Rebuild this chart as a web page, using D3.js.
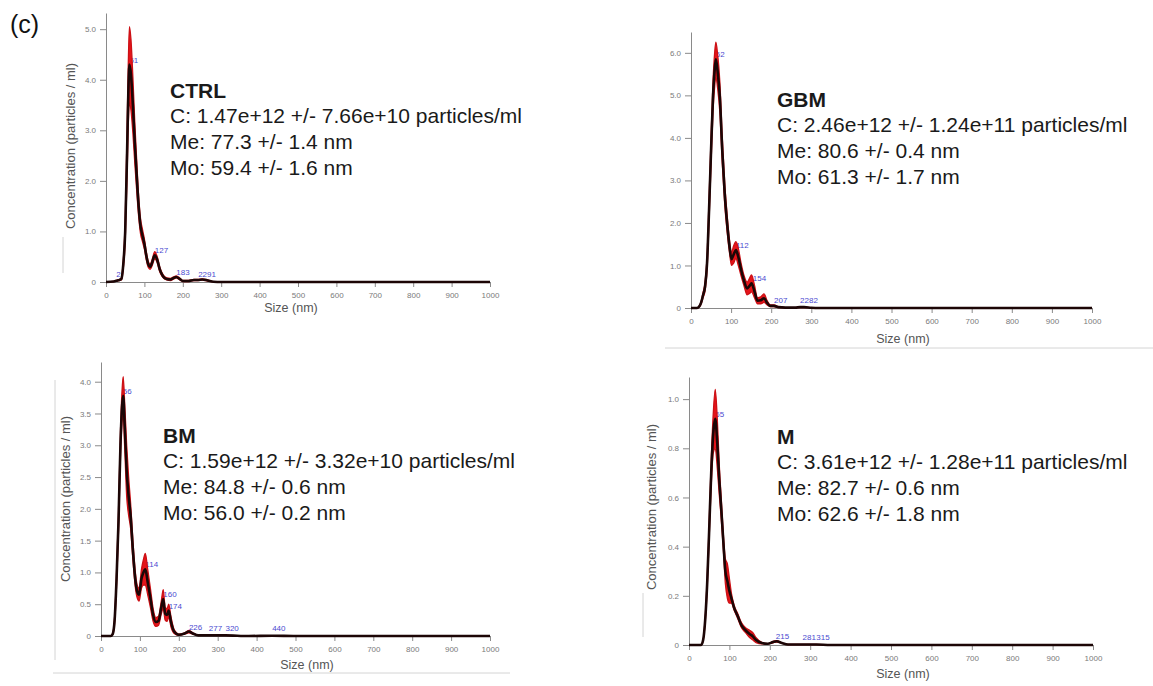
<!DOCTYPE html>
<html><head><meta charset="utf-8">
<script src="https://cdn.jsdelivr.net/npm/d3@7"></script>
<style>body{margin:0;background:#fff}svg{display:block}</style>
</head><body>
<svg id="chart" width="1153" height="686"></svg>
<script>
// ---------------- DATA ----------------
// CTRL
const ctrlSize = [0,20,30,35,40,45,50,55,58,61,65,70,75,80,85,90,95,100,105,110,115,120,127,133,140,148,158,168,176,183,192,200,215,229,240,251,265,280,300,1000];
const ctrlMean = [0,0.01,0.03,0.04,0.06,0.35,1.0,2.6,3.7,4.3,4.1,3.5,2.75,2.1,1.5,1.1,0.92,0.75,0.52,0.35,0.3,0.38,0.53,0.45,0.25,0.12,0.06,0.05,0.08,0.1,0.06,0.02,0.02,0.04,0.04,0.05,0.03,0.005,0,0];
const ctrlSd   = [0,0,0.01,0.01,0.02,0.08,0.2,0.45,0.6,0.75,0.7,0.55,0.4,0.3,0.2,0.15,0.12,0.1,0.08,0.06,0.05,0.06,0.07,0.06,0.05,0.03,0.02,0.02,0.02,0.02,0.02,0.01,0.01,0.01,0.01,0.01,0.01,0,0,0];
const ctrlYTicks = [0,1,2,3,4,5];
const ctrlPeakSize = [27,61,127,183,240];
const ctrlPeakText = ["2","61","127","183","2291"];
const ctrlStats = ["CTRL","C: 1.47e+12 +/- 7.66e+10 particles/ml","Me: 77.3 +/- 1.4 nm","Mo: 59.4 +/- 1.6 nm"];

// GBM
const gbmSize = [0,15,20,25,30,35,40,45,50,55,59,62,66,72,78,84,90,96,101,106,112,118,125,132,140,146,151,158,166,174,182,190,198,207,218,235,260,272,282,300,320,1000];
const gbmMean = [0,0,0.03,0.12,0.3,0.5,1.05,2.3,3.7,5.0,5.6,5.85,5.6,4.95,3.7,2.7,2.0,1.45,1.15,1.25,1.36,1.2,0.9,0.65,0.46,0.52,0.58,0.4,0.17,0.18,0.23,0.12,0.05,0.05,0.02,0.01,0.01,0.02,0.02,0.005,0,0];
const gbmSd   = [0,0,0.01,0.03,0.06,0.1,0.15,0.25,0.3,0.35,0.4,0.4,0.4,0.35,0.3,0.25,0.2,0.15,0.15,0.2,0.2,0.2,0.15,0.12,0.15,0.18,0.2,0.15,0.07,0.08,0.1,0.05,0.02,0.02,0.01,0,0,0.01,0.01,0,0,0];
const gbmYTicks = [0,1,2,3,4,5,6];
const gbmPeakSize = [62,112,154,207,272];
const gbmPeakText = ["62","112","154","207","2282"];
const gbmStats = ["GBM","C: 2.46e+12 +/- 1.24e+11 particles/ml","Me: 80.6 +/- 0.4 nm","Mo: 61.3 +/- 1.7 nm"];

// BM
const bmSize = [0,25,30,35,40,45,50,54,57,61,66,71,76,82,88,93,98,104,109,114,120,127,134,141,148,155,160,165,170,174,180,188,200,215,226,236,250,277,320,380,440,500,1000];
const bmMean = [0,0,0.03,0.25,0.9,1.8,3.0,3.6,3.78,3.3,2.6,2.2,1.9,1.35,0.9,0.7,0.65,0.9,1.0,1.05,0.85,0.6,0.33,0.22,0.24,0.45,0.58,0.35,0.33,0.4,0.22,0.07,0.02,0.04,0.07,0.04,0.01,0.01,0.01,0,0.005,0,0];
const bmSd   = [0,0,0.01,0.05,0.1,0.15,0.2,0.25,0.3,0.35,0.4,0.3,0.2,0.15,0.12,0.1,0.1,0.15,0.2,0.25,0.2,0.15,0.1,0.07,0.07,0.1,0.15,0.1,0.1,0.1,0.08,0.03,0.01,0.01,0.02,0.01,0,0,0,0,0,0,0];
const bmYTicks = [0,0.5,1,1.5,2,2.5,3,3.5,4];
const bmPeakSize = [56,114,160,174,226,277,320,440];
const bmPeakText = ["56","114","160","174","226","277","320","440"];
const bmStats = ["BM","C: 1.59e+12 +/- 3.32e+10 particles/ml","Me: 84.8 +/- 0.6 nm","Mo: 56.0 +/- 0.2 nm"];

// M
const mSize = [0,30,35,40,45,50,55,60,65,70,75,80,85,90,95,100,105,112,120,130,140,150,158,166,180,195,208,217,230,245,281,315,350,1000];
const mMean = [0,0,0.02,0.1,0.25,0.47,0.7,0.86,0.92,0.82,0.67,0.55,0.42,0.3,0.26,0.22,0.19,0.15,0.12,0.08,0.06,0.045,0.035,0.02,0.008,0.005,0.012,0.015,0.008,0.002,0.002,0.002,0,0];
const mSd   = [0,0,0,0.01,0.02,0.03,0.05,0.08,0.12,0.1,0.06,0.04,0.03,0.05,0.07,0.05,0.02,0.01,0.01,0.01,0.01,0.015,0.015,0.01,0.003,0,0.003,0.003,0,0,0,0,0,0];
const mYTicks = [0,0.2,0.4,0.6,0.8,1.0];
const mPeakSize = [65,215,281,315];
const mPeakText = ["65","215","281","315"];
const mStats = ["M","C: 3.61e+12 +/- 1.28e+11 particles/ml","Me: 82.7 +/- 0.6 nm","Mo: 62.6 +/- 1.8 nm"];

const xTicks = [0,100,200,300,400,500,600,700,800,900,1000];

// ---------------- LAYOUT ----------------
const panels = [
  {size:ctrlSize, mean:ctrlMean, sd:ctrlSd, yTicks:ctrlYTicks, peakSize:ctrlPeakSize, peakText:ctrlPeakText, stats:ctrlStats,
   x0:106, x1:490, y0:282, yTop:13, yMax:5.32, tx:170, ty:98, yTitle:[70,146], xTitle:[291,312]},
  {size:gbmSize, mean:gbmMean, sd:gbmSd, yTicks:gbmYTicks, peakSize:gbmPeakSize, peakText:gbmPeakText, stats:gbmStats,
   x0:691, x1:1092, y0:308, yTop:32, yMax:6.49, tx:777, ty:107, yTitle:null, xTitle:[903,343]},
  {size:bmSize, mean:bmMean, sd:bmSd, yTicks:bmYTicks, peakSize:bmPeakSize, peakText:bmPeakText, stats:bmStats,
   x0:101, x1:490, y0:636, yTop:362, yMax:4.31, tx:163, ty:443, yTitle:[65,499], xTitle:[307,669]},
  {size:mSize, mean:mMean, sd:mSd, yTicks:mYTicks, peakSize:mPeakSize, peakText:mPeakText, stats:mStats,
   x0:689, x1:1093, y0:645, yTop:377, yMax:1.09, tx:777, ty:444, yTitle:[651,507], xTitle:[903,678]}
];

const svg = d3.select("#chart");
const FONT = "'Liberation Sans', Arial, sans-serif";

// faint image-frame remnants
const frame = [[63,237,63,273],[665,348,1153,348],[55,380,55,660],[53,673,510,673],[643,593,643,637]];
svg.selectAll("line.frame").data(frame).join("line").attr("class","frame")
  .attr("x1",d=>d[0]).attr("y1",d=>d[1]).attr("x2",d=>d[2]).attr("y2",d=>d[3])
  .attr("stroke","#d4d4d4").attr("stroke-width",1);

svg.append("text").attr("x",10).attr("y",33).attr("font-family",FONT).attr("font-size",25)
  .attr("fill","#111").text("(c)");

const yFmt = d => d === 0 ? "0" : d3.format(".1f")(d);

panels.forEach(p => {
  const x = d3.scaleLinear().domain([0,1000]).range([p.x0,p.x1]);
  const y = d3.scaleLinear().domain([0,p.yMax]).range([p.y0,p.yTop]);
  const g = svg.append("g");

  // axes
  const xa = g.append("g").attr("transform",`translate(0,${p.y0})`)
    .call(d3.axisBottom(x).tickValues(xTicks).tickSize(5).tickPadding(5).tickFormat(d3.format("d")));
  const ya = g.append("g").attr("transform",`translate(${p.x0},0)`)
    .call(d3.axisLeft(y).tickValues(p.yTicks).tickSize(6).tickPadding(4).tickFormat(yFmt).tickSizeOuter(0));
  [xa,ya].forEach(a => {
    a.selectAll("path,line").attr("stroke","#8a8a8a");
    a.selectAll("text").attr("fill","#7a7a7a").attr("font-size",8).attr("font-family",FONT);
  });

  // axis titles
  g.append("text").attr("x",p.xTitle[0]).attr("y",p.xTitle[1]).attr("text-anchor","middle")
    .attr("font-family",FONT).attr("font-size",12.5).attr("fill","#555").text("Size (nm)");
  if (p.yTitle) {
    g.append("text").attr("transform",`translate(${p.yTitle[0]},${p.yTitle[1]}) rotate(-90)`)
      .attr("text-anchor","middle").attr("dominant-baseline","central")
      .attr("font-family",FONT).attr("font-size",13).attr("fill","#555")
      .text("Concentration (particles / ml)");
  }

  // peak labels (under the curves)
  const idx = d3.range(p.size.length);
  const meanAt = s => {
    let best = 0;
    idx.forEach(i => { if (Math.abs(p.size[i]-s) < Math.abs(p.size[best]-s)) best = i; });
    return p.mean[best];
  };
  g.selectAll("text.pk").data(d3.range(p.peakSize.length)).join("text").attr("class","pk")
    .attr("x",i => x(p.peakSize[i]))
    .attr("y",i => Math.min(y(meanAt(p.peakSize[i])) - 2, p.y0 - 5))
    .attr("font-family",FONT).attr("font-size",8).attr("fill","#4a4ad0")
    .text(i => p.peakText[i]);

  // error band
  const area = d3.area().curve(d3.curveMonotoneX)
    .x(i => x(p.size[i]))
    .y0(i => y(Math.max(0, p.mean[i]-p.sd[i])))
    .y1(i => y(p.mean[i]+p.sd[i]));
  g.append("path").datum(idx).attr("d",area)
    .attr("fill","#e5141a").attr("stroke","#cc1015").attr("stroke-width",1.3);

  // mean line
  const line = d3.line().curve(d3.curveMonotoneX)
    .x(i => x(p.size[i])).y(i => y(p.mean[i]));
  g.append("path").datum(idx).attr("d",line)
    .attr("fill","none").attr("stroke","#1c0606").attr("stroke-width",2.6);

  // stats text
  const t = g.append("text").attr("font-family",FONT).attr("font-size",21).attr("fill","#1a1a1a");
  p.stats.forEach((s,i) => {
    t.append("tspan").attr("x",p.tx).attr("y",p.ty + (i===0 ? 0 : 25 + (i-1)*26))
      .attr("font-weight", i===0 ? "bold" : "normal").text(s);
  });
});
</script>
</body></html>
